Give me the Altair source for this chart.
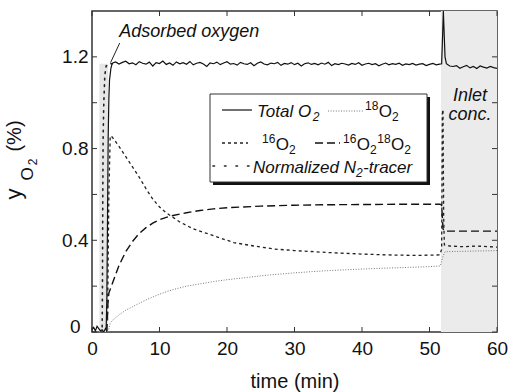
import altair as alt
import pandas as pd

FONT = "Liberation Sans"

# ---------------- data ----------------
# Total O2 (solid)
total_t_start = [0, 0.25, 0.5, 0.75, 1.0, 1.25, 1.5, 1.75, 2.0, 2.1, 2.2, 2.3, 2.4, 2.5, 2.6, 2.8]
total_v_start = [0.01, 0.02, 0.005, 0.025, 0.015, 0.005, 0.01, 0.0, 0.015, 0.01, 0.15, 0.5, 0.85, 1.02, 1.10, 1.15]
plateau_t = [3.0 + 0.5 * i for i in range(98)]
plateau_v = [
    1.172, 1.178, 1.169, 1.176, 1.181, 1.170, 1.174, 1.166, 1.179, 1.172,
    1.168, 1.177, 1.160, 1.175, 1.171, 1.182, 1.167, 1.173, 1.163, 1.178,
    1.170, 1.175, 1.168, 1.180, 1.165, 1.172, 1.176, 1.169, 1.158, 1.174,
    1.170, 1.177, 1.166, 1.173, 1.179, 1.168, 1.171, 1.164, 1.176, 1.170,
    1.167, 1.174, 1.161, 1.172, 1.178, 1.169, 1.165, 1.173, 1.170, 1.176,
    1.163, 1.171, 1.168, 1.175, 1.166, 1.172, 1.160, 1.170, 1.174, 1.167,
    1.171, 1.165, 1.173, 1.168, 1.176, 1.162, 1.170, 1.166, 1.172, 1.169,
    1.164, 1.171, 1.167, 1.174, 1.163, 1.169, 1.172, 1.166, 1.170, 1.161,
    1.168, 1.173, 1.165, 1.170, 1.167, 1.172, 1.163, 1.169, 1.166, 1.171,
    1.164, 1.168, 1.170, 1.162, 1.167, 1.171, 1.165, 1.168,
]
spike_t = [51.8, 51.95, 52.05, 52.15, 52.3, 52.5, 53.0]
spike_v = [1.17, 1.30, 1.40, 1.32, 1.20, 1.17, 1.16]
inlet_t = [53.5 + 0.5 * i for i in range(14)]
inlet_v = [1.158, 1.162, 1.150, 1.157, 1.163, 1.152, 1.158, 1.149, 1.160, 1.155,
           1.151, 1.158, 1.153, 1.150]

# Normalized N2 tracer (dotted)
tracer_t = [1.3, 1.5, 1.55, 1.6, 1.65, 1.75, 1.9, 2.1, 2.5, 3.0]
tracer_v = [0.0, 0.0, 0.2, 0.6, 0.85, 1.0, 1.12, 1.16, 1.17, 1.17]

# 16O2 (short dash)
o16_t = [2.3, 2.5, 2.7, 3.0, 3.5, 4, 5, 6, 7, 8, 9, 10, 11, 12, 13, 14, 15, 17, 19, 21,
         24, 27, 30, 33, 36, 40, 44, 48, 51.5, 51.8, 51.9, 52.0, 52.1, 52.2, 53, 55, 57, 60]
o16_v = [0.05, 0.6, 0.855, 0.85, 0.83, 0.81, 0.765, 0.72, 0.675, 0.625, 0.58, 0.545, 0.52,
         0.50, 0.48, 0.465, 0.45, 0.43, 0.41, 0.39, 0.375, 0.362, 0.355, 0.35, 0.345, 0.34,
         0.336, 0.334, 0.336, 0.36, 0.95, 0.97, 0.5, 0.38, 0.375, 0.372, 0.375, 0.37]

# 16O2 18O2 (long dash)
o1618_t = [2.2, 2.35, 2.5, 3, 3.5, 4, 5, 6, 7, 8, 9, 10, 11, 12, 14, 16, 18, 20, 25, 30,
           35, 40, 45, 51.5, 51.8, 52.0, 52.2, 53, 60]
o1618_v = [0.0, 0.12, 0.17, 0.21, 0.25, 0.29, 0.35, 0.395, 0.43, 0.455, 0.475, 0.49, 0.50,
           0.508, 0.52, 0.53, 0.537, 0.542, 0.549, 0.553, 0.555, 0.556, 0.557, 0.557, 0.555,
           0.45, 0.44, 0.44, 0.44]

# 18O2 (fine dotted, grey)
o18_t = [2.4, 2.7, 3, 4, 5, 6, 7, 8, 10, 12, 14, 16, 18, 20, 23, 26, 30, 34, 38, 42, 46,
         50, 51.6, 52.0, 52.3, 55, 60]
o18_v = [0.0, 0.04, 0.05, 0.075, 0.095, 0.11, 0.125, 0.14, 0.165, 0.185, 0.2, 0.21, 0.22,
         0.228, 0.238, 0.248, 0.258, 0.266, 0.272, 0.277, 0.281, 0.285, 0.288, 0.33, 0.35,
         0.352, 0.355]

# shaded regions
inlet_region = {"t0": [51.7], "t1": [60], "v0": [0], "v1": [1.4]}
adsorbed_region = {"t0": [1.1], "t1": [2.4], "v0": [0], "v1": [1.17]}

# annotations
annot_text = ["Adsorbed oxygen"]
annot_t = [14.4]
annot_v = [1.307]
leader = {"t": [4.1], "v": [1.26], "t2": [2.75], "v2": [1.175]}
inlet_text = ["Inlet", "conc."]
inlet_text_t = [56, 56]
inlet_text_v = [1.028, 0.945]

x_ticks = [0, 10, 20, 30, 40, 50, 60]
y_ticks = [0, 0.2, 0.4, 0.6, 0.8, 1.0, 1.2]
y_labels = [0, 0.4, 0.8, 1.2]

W, H = 405, 321

xs = alt.Scale(domain=[0, 60], nice=False, zero=False)
ys = alt.Scale(domain=[0, 1.4], nice=False, zero=False)

X = lambda f: alt.X(f, type="quantitative", scale=xs, title="")
Y = lambda f: alt.Y(f, type="quantitative", scale=ys, title="")


def series(t, v):
    return pd.DataFrame({"t": t, "v": v})


total_df = series(total_t_start + plateau_t + spike_t + inlet_t,
                  total_v_start + plateau_v + spike_v + inlet_v)

one = pd.DataFrame({"k": [0]})

layers = []

# grey areas
layers.append(
    alt.Chart(pd.DataFrame(inlet_region)).mark_rect(color="#ebebeb").encode(
        x=X("t0"), x2="t1", y=Y("v0"), y2="v1"
    )
)
layers.append(
    alt.Chart(pd.DataFrame(adsorbed_region)).mark_rect(color="#e6e6e6").encode(
        x=X("t0"), x2="t1", y=Y("v0"), y2="v1"
    )
)

# curves
layers.append(
    alt.Chart(series(o18_t, o18_v)).mark_line(
        color="#777777", strokeWidth=1, strokeDash=[1, 1.6], clip=True
    ).encode(x=X("t"), y=Y("v"))
)
layers.append(
    alt.Chart(series(o1618_t, o1618_v)).mark_line(
        color="#111111", strokeWidth=1.4, strokeDash=[8, 4], clip=True
    ).encode(x=X("t"), y=Y("v"))
)
layers.append(
    alt.Chart(series(o16_t, o16_v)).mark_line(
        color="#222222", strokeWidth=1.3, strokeDash=[3, 3], clip=True
    ).encode(x=X("t"), y=Y("v"))
)
layers.append(
    alt.Chart(series(tracer_t, tracer_v)).mark_line(
        color="#222222", strokeWidth=1.6, strokeDash=[1.5, 5], strokeCap="round", clip=True
    ).encode(x=X("t"), y=Y("v"))
)
layers.append(
    alt.Chart(total_df).mark_line(color="#111111", strokeWidth=1.2, clip=True).encode(
        x=alt.X("t", type="quantitative", scale=xs,
                axis=alt.Axis(values=x_ticks, title="time (min)", format="d", labelFlush=False)),
        y=alt.Y("v", type="quantitative", scale=ys,
                axis=alt.Axis(
                    values=y_labels, title="",
                    labelExpr="datum.value == 0 ? '0' : format(datum.value, '.1f')",
                    labelBaseline={"condition": {"test": "datum.value == 0", "value": "alphabetic"},
                                   "value": "middle"},
                    labelPadding={"condition": {"test": "datum.value == 0", "value": 12},
                                  "value": 4},
                )),
    )
)

# inward ticks
xt = pd.DataFrame({"t": x_ticks})
yt = pd.DataFrame({"v": y_ticks})
tick_color = "#333333"
layers.append(alt.Chart(xt).mark_rule(color=tick_color).encode(x=X("t"), y=alt.value(H), y2=alt.value(H - 5)))
layers.append(alt.Chart(xt).mark_rule(color=tick_color).encode(x=X("t"), y=alt.value(0), y2=alt.value(5)))
layers.append(alt.Chart(yt).mark_rule(color=tick_color).encode(y=Y("v"), x=alt.value(0), x2=alt.value(5)))
layers.append(alt.Chart(yt).mark_rule(color=tick_color).encode(y=Y("v"), x=alt.value(W), x2=alt.value(W - 5)))

# annotations
layers.append(
    alt.Chart(pd.DataFrame({"t": annot_t, "v": annot_v, "s": annot_text})).mark_text(
        font=FONT, fontSize=18, fontStyle="italic", align="center", baseline="middle", color="#111"
    ).encode(x=X("t"), y=Y("v"), text="s:N")
)
layers.append(
    alt.Chart(pd.DataFrame(leader)).mark_rule(color="#222", strokeWidth=1).encode(
        x=X("t"), y=Y("v"), x2="t2", y2="v2"
    )
)
layers.append(
    alt.Chart(pd.DataFrame({"t": inlet_text_t, "v": inlet_text_v, "s": inlet_text})).mark_text(
        font=FONT, fontSize=18, fontStyle="italic", align="center", baseline="middle", color="#111"
    ).encode(x=X("t"), y=Y("v"), text="s:N")
)

# legend box (pixel positions within the plot area)
layers.append(alt.Chart(one).mark_rect(color="#111").encode(
    x=alt.value(121), x2=alt.value(338), y=alt.value(86), y2=alt.value(174)))
layers.append(alt.Chart(one).mark_rect(fill="white", stroke="#333", strokeWidth=1).encode(
    x=alt.value(118), x2=alt.value(335), y=alt.value(83), y2=alt.value(171)))


def leg_line(x1, x2, y, **kw):
    return alt.Chart(one).mark_rule(**kw).encode(x=alt.value(x1), x2=alt.value(x2), y=alt.value(y))


# Arial / Liberation Sans advance widths (per em)
ADV = {"T": .611, "o": .556, "t": .278, "a": .556, "l": .222, " ": .278, "O": .778,
       "N": .722, "r": .333, "m": .833, "i": .222, "z": .5, "e": .556, "d": .556,
       "-": .333, "c": .5, "1": .556, "2": .556, "6": .556, "8": .556}


def text_width(s, size):
    return sum(ADV.get(ch, .556) for ch in s) * size


BIG, SMALL = 17, 12


def rich(x, y, pieces, italic):
    """pieces: list of (text, kind) with kind in 'n', 'sup', 'sub'."""
    out = []
    cx = x
    for s, kind in pieces:
        size = BIG if kind == "n" else SMALL
        dy = {"n": 0, "sup": -7, "sub": 4}[kind]
        props = dict(font=FONT, fontSize=size, align="left", baseline="alphabetic", color="#111")
        if italic:
            props["fontStyle"] = "italic"
        out.append(alt.Chart(one).mark_text(text=s, **props).encode(
            x=alt.value(cx), y=alt.value(y + dy)))
        cx += text_width(s, size) + (0.5 if kind != "n" else 0)
    return out


layers.append(leg_line(130, 160, 99, color="#111", strokeWidth=1.2))
layers.append(leg_line(236, 271, 100, color="#777", strokeWidth=1, strokeDash=[1, 1.6]))
layers.append(leg_line(130, 156, 132, color="#222", strokeWidth=1.3, strokeDash=[3, 3]))
layers.append(leg_line(223, 248, 132, color="#111", strokeWidth=1.4, strokeDash=[8, 4]))
layers.append(leg_line(121, 158, 155, color="#222", strokeWidth=1.6, strokeDash=[1.5, 10], strokeCap="round"))

layers += rich(165, 106, [("Total O", "n"), ("2", "sub")], True)
layers += rich(273, 106, [("18", "sup"), ("O", "n"), ("2", "sub")], False)
layers += rich(170, 139, [("16", "sup"), ("O", "n"), ("2", "sub")], False)
layers += rich(251, 139, [("16", "sup"), ("O", "n"), ("2", "sub"), ("18", "sup"), ("O", "n"), ("2", "sub")], False)
layers += rich(161, 162, [("Normalized N", "n"), ("2", "sub"), ("-tracer", "n")], True)


# y title built from pieces (y with subscript O2), rotated
def ytitle(x, y, s, size):
    return alt.Chart(one).mark_text(
        text=s, font=FONT, fontSize=size, angle=270, align="center", baseline="alphabetic", color="#111"
    ).encode(x=alt.value(x), y=alt.value(y))


layers.append(ytitle(-71, 183, "y", 22))
layers.append(ytitle(-59, 163, "O", 17))
layers.append(ytitle(-55, 151, "2", 12))
layers.append(ytitle(-71, 125, "(%)", 20))

chart = alt.layer(*layers).properties(
    width=W, height=H,
    padding={"left": 92, "top": 11, "right": 11, "bottom": 60},
    autosize=alt.AutoSizeParams(type="none"),
).configure_view(
    stroke="#333333", strokeWidth=1.5
).configure_axis(
    domain=False, ticks=False, grid=False,
    labelFont=FONT, labelFontSize=19, labelColor="#111",
    titleFont=FONT, titleFontSize=20, titleFontWeight="normal", titleColor="#111",
).configure_axisX(labelPadding=7, titlePadding=13)

chart.save("out.html", embed_options={"renderer": "svg", "actions": False})
